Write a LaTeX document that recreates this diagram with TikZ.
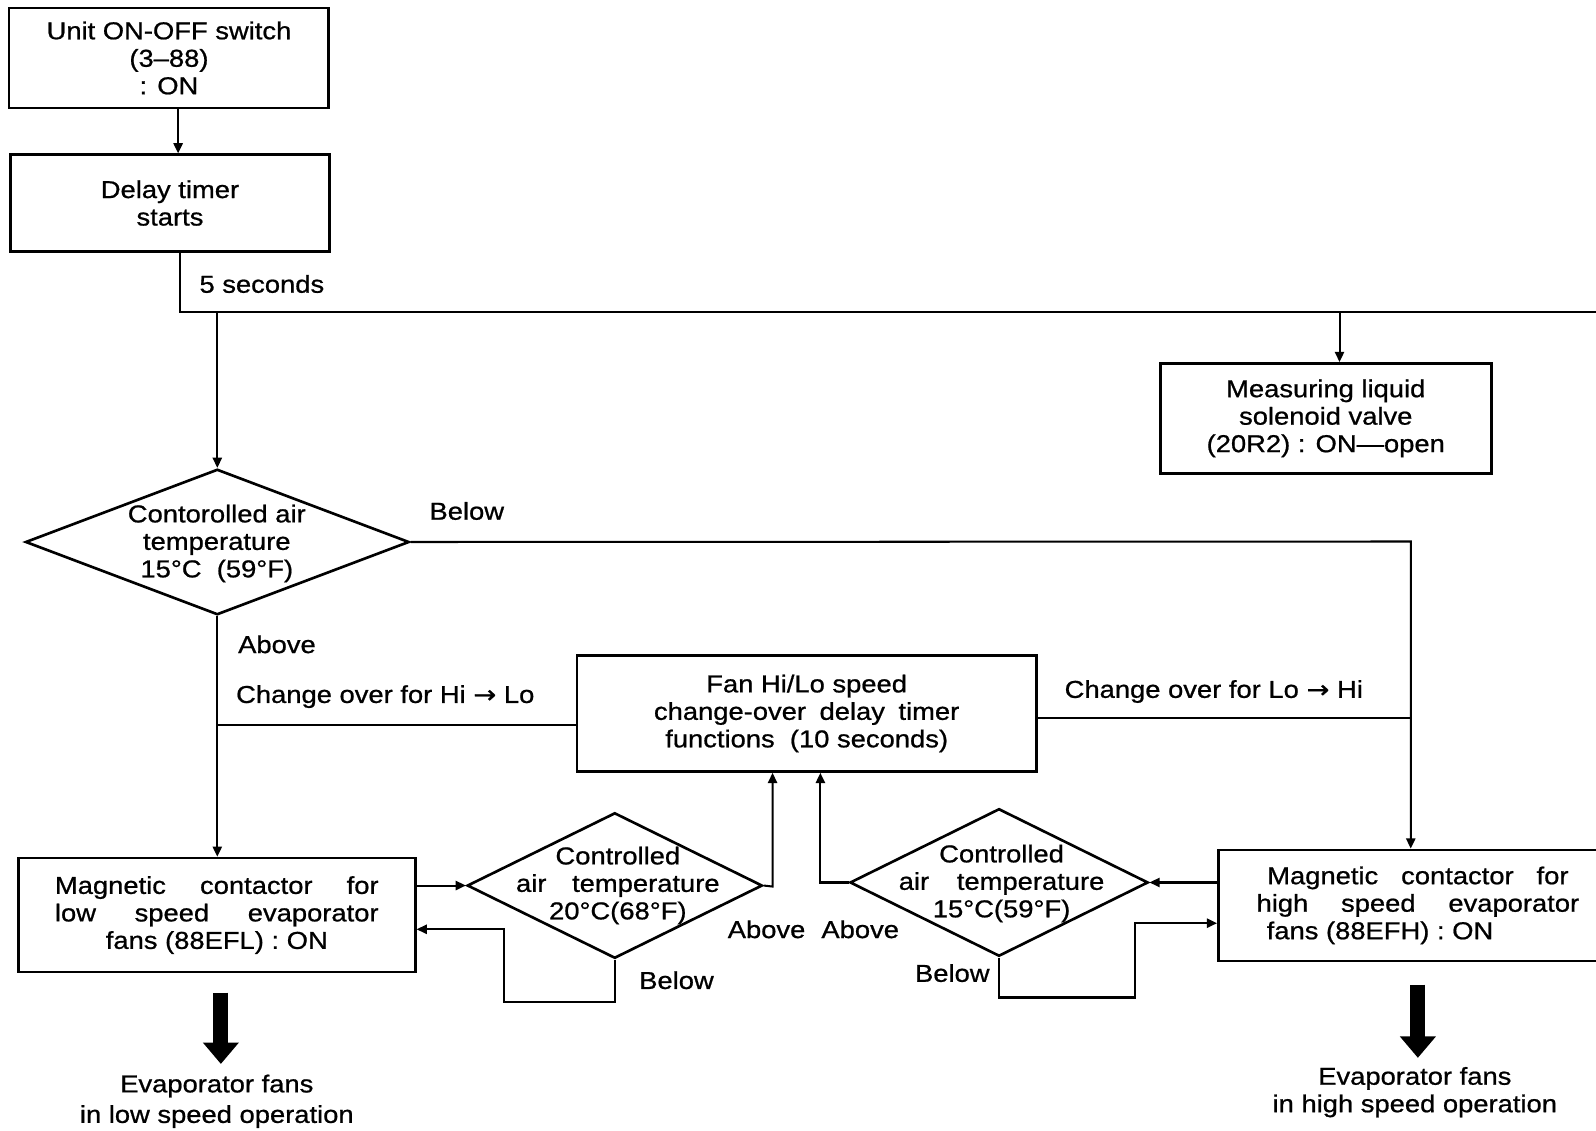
\documentclass[tikz,border=0pt]{standalone}
\usepackage{fontspec}
\setmainfont[FakeStretch=1.12,FakeBold=0.8]{Liberation Sans}
\newfontfamily\symf[FakeStretch=1.12,FakeBold=0.8]{DejaVu Sans}
\usetikzlibrary{arrows.meta,shapes.geometric}
\newcommand{\rarr}{{\symf\char"2192}}
\begin{document}
\begin{tikzpicture}[x=0.5pt,y=-0.5pt,
  font=\fontsize{12}{13.5}\selectfont, line width=1pt,
  box/.style={draw, line width=1.3pt, inner sep=0pt, align=center},
  dia/.style={draw, diamond, line width=1.3pt, inner sep=0pt},
  txt/.style={align=center, inner sep=0pt},
  lbl/.style={anchor=west, inner sep=0pt, text height=8.6pt, text depth=0pt},
  arr/.style={-{Triangle[length=5pt,width=4.5pt]}},
  fat/.style={line width=7.3pt, -{Triangle[length=10.5pt,width=17pt]}}]
\fill[white] (0,0) rectangle (1568,1111);
\useasboundingbox (0,0) rectangle (1568,1111);
\clip (0,0) rectangle (1568,1111);

% nodes
\node[box, minimum width=157pt, minimum height=49pt] (b1) at (166,57) {Unit ON-OFF switch\\(3–88)\\: ON};
\node[box, minimum width=157pt, minimum height=47.5pt] (b2) at (167,199.5) {Delay timer\\starts};
\node[box, minimum width=162.5pt, minimum height=54pt] (b3) at (1302.5,411) {Measuring liquid\\solenoid valve\\(20R2) : ON—open};

\node[dia, minimum width=188.5pt, minimum height=71.5pt] (d1) at (213.5,532.5) {};
\node[txt] (d1t) at (213,534) {Contorolled air\\temperature\\15°C\ \ (59°F)};

\node[box, minimum width=225.5pt, minimum height=57pt] (tm) at (792.5,701) {Fan Hi/Lo speed\\\makebox[150pt][s]{change-over delay timer}\\functions\ \ (10 seconds)};

\node[box, minimum width=195pt, minimum height=56pt] (bLS) at (213,899) {\makebox[159pt][s]{Magnetic contactor for}\\\makebox[159pt][s]{low speed evaporator}\\fans (88EFL) : ON};

\node[dia, minimum width=145pt, minimum height=71.5pt] (d2) at (604,870) {};
\node[txt] (d2t) at (607,870) {Controlled\\\makebox[100pt][s]{air temperature}\\20°C(68°F)};

\node[dia, minimum width=146.5pt, minimum height=72.5pt] (d3) at (981.5,867) {};
\node[txt] (d3t) at (984,868) {Controlled\\\makebox[101pt][s]{air temperature}\\15°C(59°F)};

\node[box, minimum width=196pt, minimum height=54.5pt] (bHS) at (1393,889.5) {\makebox[148pt][s]{Magnetic contactor for}\\\makebox[158.5pt][s]{high speed evaporator}\\\makebox[158.5pt][l]{\hspace{5pt}fans (88EFH) : ON}};

\node[txt] (eLS) at (213,1082) {Evaporator fans\\[1.5pt]in low speed operation};
\node[txt] (eHS) at (1390,1073) {Evaporator fans\\in high speed operation};

% labels
\node[lbl] (l5s) at (195,279) {5 seconds};
\node[lbl] (lb1) at (421,502) {Below};
\node[lbl] (la1) at (233,633) {Above};
\node[lbl] (lhl) at (231,682) {Change over for Hi \rarr\ Lo};
\node[lbl] (llh) at (1045,677) {Change over for Lo \rarr\ Hi};
\node[lbl] (la2) at (714,913) {Above};
\node[lbl] (la3) at (806,913) {Above};
\node[lbl] (lb2) at (627,963) {Below};
\node[lbl] (lb3) at (898,956) {Below};

% coordinates
\coordinate (k0) at (175,130);
\coordinate (j0) at (177,307);
\coordinate (edge) at (1580,307);
\coordinate (j1) at (1316,307);
\coordinate (c1) at (1386,532);
\coordinate (hl) at (213,712);
\coordinate (lh) at (1386,705);
\coordinate (a2) at (759,871);
\coordinate (a3) at (806,867);
\coordinate (q1) at (495,984);
\coordinate (q2) at (495,913);
\coordinate (r1) at (1115,980);
\coordinate (r2) at (1115,907);

% connectors
\draw[arr] (k0 |- b1.south) -- (k0 |- b2.north);
\draw (b2.south -| j0) -- (j0) -- (edge);
\draw[arr] (j1) -- (j1 |- b3.north);
\draw[arr] (d1.north |- j0) -- (d1.north);
\draw[arr] (d1.east) -- (c1) -- (c1 |- bHS.north);
\draw[arr] (d1.south) -- (d1.south |- bLS.north);
\draw (hl) -- (hl -| tm.west);
\draw (tm.east |- lh) -- (lh);
\draw[arr] (bLS.east |- d2.west) -- (d2.west);
\draw[arr] (d2.east) -- (a2) -- (a2 |- tm.south);
\draw[arr] (d2.south) |- (q1) -- (q2) -- (q2 -| bLS.east);
\draw[arr] (d3.west) -- (a3) -- (a3 |- tm.south);
\draw[arr] (bHS.west |- d3.east) -- (d3.east);
\draw[arr] (d3.south) |- (r1) -- (r2) -- (r2 -| bHS.west);

\draw[fat] ([shift={(4,19)}]bLS.south) -- ([shift={(4,89)}]bLS.south);
\draw[fat] ([shift={(0,22)}]bHS.south) -- ([shift={(0,94)}]bHS.south);
\end{tikzpicture}
\end{document}
